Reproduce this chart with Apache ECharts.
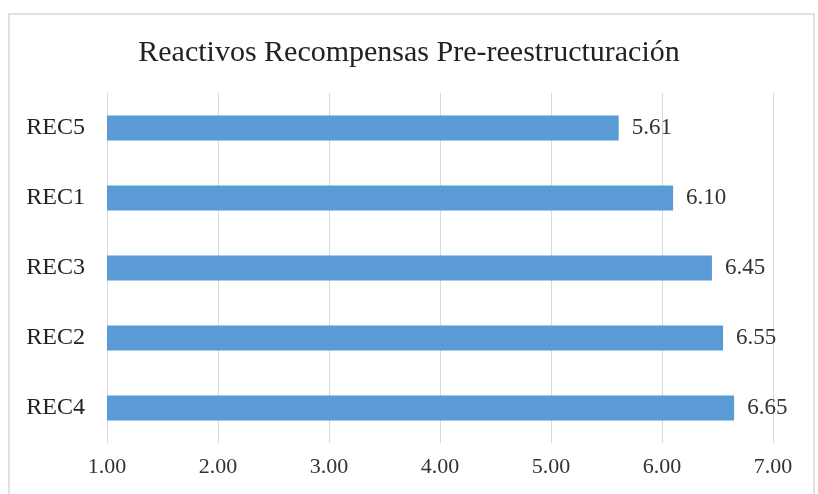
<!DOCTYPE html>
<html>
<head>
<meta charset="utf-8">
<script src="https://cdn.jsdelivr.net/npm/echarts@6/dist/echarts.min.js"></script>
<style>
  html, body { margin: 0; padding: 0; background: #fff; }
  #chart { width: 818px; height: 494px; }
</style>
</head>
<body>
<div id="chart"></div>
<script>
// datos (de abajo hacia arriba)
const categories = ['REC4', 'REC2', 'REC3', 'REC1', 'REC5'];
const values = [6.65, 6.55, 6.45, 6.10, 5.61];
const titleText = 'Reactivos Recompensas Pre-reestructuración';

const chart = echarts.init(document.getElementById('chart'));
const serif = '"Liberation Serif", "DejaVu Serif", serif';

const option = {
  backgroundColor: '#fff',
  animation: false,
  title: {
    text: titleText,
    left: 'center',
    top: 33,
    textStyle: { fontFamily: serif, fontSize: 30, fontWeight: 'normal', color: '#222' }
  },
  graphic: [
    {
      type: 'rect',
      shape: { x: 9, y: 14, width: 805, height: 500 },
      style: { fill: 'none', stroke: '#d9d9d9', lineWidth: 1.5 },
      silent: true
    }
  ],
  grid: { left: 107, right: 45, top: 93, bottom: 51, containLabel: false },
  xAxis: {
    type: 'value',
    min: 1,
    max: 7,
    interval: 1,
    axisLine: { show: false },
    axisTick: { show: false },
    splitLine: { lineStyle: { color: '#d9d9d9', width: 1 } },
    axisLabel: {
      formatter: v => v.toFixed(2),
      fontFamily: serif,
      fontSize: 22,
      color: '#333',
      margin: 13
    }
  },
  yAxis: {
    type: 'category',
    data: categories,
    axisLine: { show: false },
    axisTick: { show: false },
    axisLabel: { fontFamily: serif, fontSize: 24, color: '#222', margin: 22 }
  },
  series: [
    {
      type: 'bar',
      data: values,
      barWidth: 25,
      itemStyle: { color: '#5b9bd5' },
      label: {
        show: true,
        position: 'right',
        distance: 13,
        formatter: p => p.value.toFixed(2),
        fontFamily: serif,
        fontSize: 23,
        color: '#333'
      }
    }
  ]
};

chart.setOption(option);
window.addEventListener('resize', () => chart.resize());
</script>
</body>
</html>
